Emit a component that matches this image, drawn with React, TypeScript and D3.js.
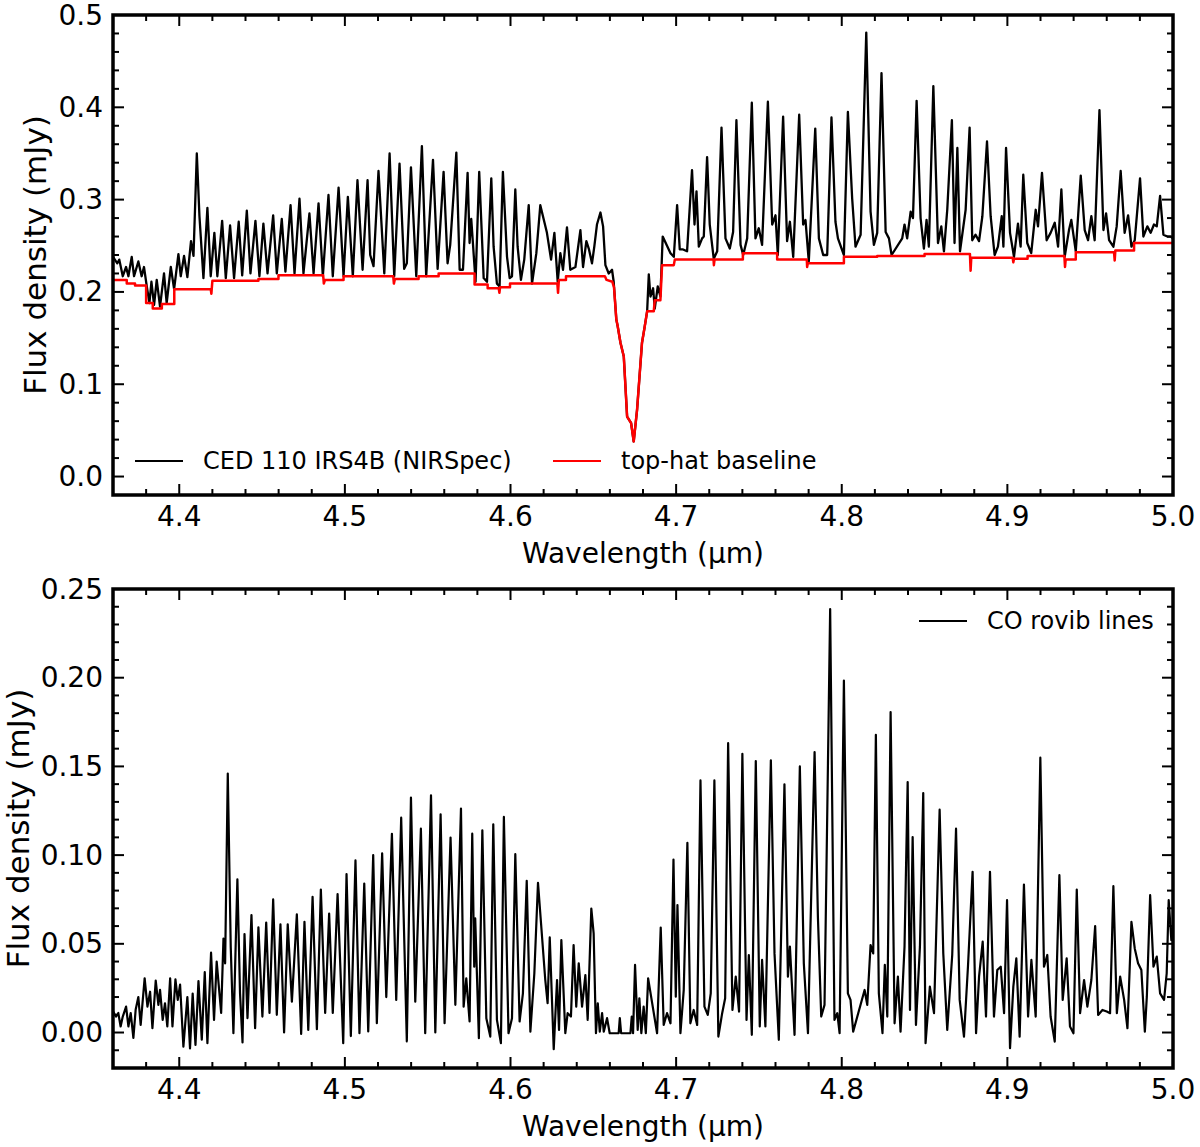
import React from 'react';
import * as d3 from 'd3';

// ---------------- data ----------------
const X_DOMAIN: [number, number] = [4.36, 5.0];
const TOP_Y_DOMAIN: [number, number] = [-0.02, 0.5];
const BOT_Y_DOMAIN: [number, number] = [-0.02, 0.25];

const xMajorTicks = [4.4, 4.5, 4.6, 4.7, 4.8, 4.9, 5.0];
const xTickLabels = ['4.4', '4.5', '4.6', '4.7', '4.8', '4.9', '5.0'];
const X_MINOR_STEP = 0.02;

const topYMajorTicks = [0, 0.1, 0.2, 0.3, 0.4, 0.5];
const topYTickLabels = ['0.0', '0.1', '0.2', '0.3', '0.4', '0.5'];
const TOP_Y_MINOR_STEP = 0.02;

const botYMajorTicks = [0, 0.05, 0.1, 0.15, 0.2, 0.25];
const botYTickLabels = ['0.00', '0.05', '0.10', '0.15', '0.20', '0.25'];
const BOT_Y_MINOR_STEP = 0.01;

const X_LABEL = 'Wavelength (µm)';
const Y_LABEL = 'Flux density (mJy)';
const TOP_LEGEND = ['CED 110 IRS4B (NIRSpec)', 'top-hat baseline'];
const BOT_LEGEND = ['CO rovib lines'];

// observed spectrum, [wavelength µm, flux mJy]
const topSpectrum: [number, number][] = [
  [4.3600,0.238],[4.3626,0.231],[4.3638,0.235],[4.3659,0.217],[4.3679,0.227],[4.3693,0.217],[4.3713,0.238],
  [4.3727,0.217],[4.3753,0.233],[4.3773,0.217],[4.3787,0.227],[4.3804,0.206],[4.3820,0.188],[4.3832,0.211],
  [4.3848,0.186],[4.3864,0.213],[4.3884,0.184],[4.3908,0.220],[4.3924,0.188],[4.3949,0.227],[4.3969,0.203],
  [4.3995,0.241],[4.4009,0.217],[4.4029,0.239],[4.4049,0.216],[4.4071,0.255],[4.4086,0.239],[4.4106,0.350],
  [4.4122,0.282],[4.4146,0.215],[4.4170,0.291],[4.4190,0.217],[4.4212,0.264],[4.4230,0.217],[4.4259,0.277],
  [4.4281,0.215],[4.4307,0.272],[4.4331,0.215],[4.4359,0.276],[4.4380,0.218],[4.4408,0.288],[4.4430,0.220],
  [4.4460,0.277],[4.4484,0.217],[4.4508,0.274],[4.4533,0.220],[4.4567,0.283],[4.4589,0.220],[4.4619,0.279],
  [4.4641,0.222],[4.4672,0.294],[4.4696,0.220],[4.4726,0.301],[4.4750,0.220],[4.4786,0.285],[4.4811,0.220],
  [4.4841,0.296],[4.4867,0.217],[4.4901,0.305],[4.4927,0.217],[4.4962,0.313],[4.4992,0.217],[4.5018,0.303],
  [4.5048,0.217],[4.5076,0.321],[4.5107,0.224],[4.5137,0.321],[4.5153,0.240],[4.5173,0.228],[4.5203,0.331],
  [4.5238,0.220],[4.5270,0.350],[4.5298,0.217],[4.5330,0.339],[4.5358,0.225],[4.5374,0.231],[4.5399,0.335],
  [4.5431,0.217],[4.5465,0.358],[4.5491,0.217],[4.5532,0.343],[4.5560,0.225],[4.5596,0.330],[4.5620,0.231],
  [4.5636,0.251],[4.5673,0.351],[4.5693,0.224],[4.5713,0.224],[4.5741,0.329],[4.5753,0.253],[4.5763,0.279],
  [4.5773,0.253],[4.5789,0.211],[4.5811,0.330],[4.5838,0.215],[4.5858,0.211],[4.5884,0.323],[4.5898,0.249],
  [4.5918,0.209],[4.5934,0.206],[4.5954,0.330],[4.5979,0.238],[4.5995,0.215],[4.6009,0.217],[4.6029,0.311],
  [4.6043,0.249],[4.6063,0.213],[4.6083,0.235],[4.6110,0.294],[4.6130,0.209],[4.6156,0.242],[4.6180,0.294],
  [4.6220,0.264],[4.6245,0.235],[4.6265,0.264],[4.6285,0.211],[4.6301,0.242],[4.6317,0.224],[4.6341,0.270],
  [4.6361,0.224],[4.6392,0.227],[4.6422,0.267],[4.6438,0.227],[4.6458,0.255],[4.6474,0.246],[4.6492,0.231],
  [4.6506,0.249],[4.6522,0.273],[4.6543,0.286],[4.6559,0.271],[4.6573,0.229],[4.6593,0.220],[4.6613,0.224],
  [4.6623,0.211],[4.6639,0.170],[4.6647,0.163],[4.6664,0.145],[4.6684,0.130],[4.6704,0.065],[4.6728,0.058],
  [4.6744,0.038],[4.6764,0.072],[4.6794,0.145],[4.6809,0.161],[4.6825,0.179],[4.6835,0.219],[4.6845,0.195],
  [4.6861,0.204],[4.6871,0.182],[4.6889,0.206],[4.6905,0.195],[4.6919,0.260],[4.6966,0.242],[4.6986,0.238],
  [4.7006,0.294],[4.7022,0.246],[4.7042,0.246],[4.7066,0.244],[4.7096,0.332],[4.7111,0.273],[4.7123,0.309],
  [4.7137,0.249],[4.7157,0.258],[4.7167,0.260],[4.7187,0.346],[4.7203,0.273],[4.7227,0.236],[4.7248,0.244],
  [4.7274,0.378],[4.7298,0.258],[4.7324,0.247],[4.7344,0.265],[4.7364,0.386],[4.7389,0.251],[4.7405,0.240],
  [4.7429,0.258],[4.7457,0.405],[4.7479,0.258],[4.7499,0.269],[4.7519,0.251],[4.7554,0.406],[4.7580,0.273],
  [4.7600,0.283],[4.7614,0.240],[4.7646,0.390],[4.7670,0.255],[4.7687,0.276],[4.7707,0.238],[4.7743,0.392],
  [4.7767,0.273],[4.7781,0.278],[4.7801,0.233],[4.7840,0.377],[4.7862,0.258],[4.7888,0.240],[4.7912,0.240],
  [4.7938,0.389],[4.7962,0.276],[4.7977,0.258],[4.8013,0.240],[4.8037,0.395],[4.8063,0.301],[4.8083,0.249],
  [4.8114,0.262],[4.8148,0.481],[4.8174,0.287],[4.8194,0.251],[4.8214,0.264],[4.8240,0.437],[4.8265,0.265],
  [4.8285,0.258],[4.8301,0.240],[4.8365,0.258],[4.8379,0.273],[4.8395,0.258],[4.8416,0.287],[4.8430,0.280],
  [4.8452,0.407],[4.8476,0.280],[4.8496,0.247],[4.8512,0.278],[4.8526,0.249],[4.8553,0.423],[4.8581,0.253],
  [4.8601,0.271],[4.8617,0.244],[4.8637,0.289],[4.8665,0.386],[4.8681,0.253],[4.8698,0.356],[4.8714,0.244],
  [4.8748,0.289],[4.8772,0.378],[4.8788,0.256],[4.8808,0.262],[4.8829,0.255],[4.8849,0.282],[4.8877,0.363],
  [4.8899,0.282],[4.8923,0.240],[4.8943,0.249],[4.8966,0.282],[4.8976,0.249],[4.8992,0.356],[4.9016,0.264],
  [4.9040,0.238],[4.9064,0.274],[4.9080,0.249],[4.9096,0.327],[4.9120,0.253],[4.9144,0.242],[4.9171,0.289],
  [4.9185,0.271],[4.9209,0.329],[4.9237,0.256],[4.9261,0.264],[4.9286,0.275],[4.9306,0.249],[4.9326,0.311],
  [4.9346,0.238],[4.9372,0.267],[4.9386,0.278],[4.9413,0.244],[4.9443,0.326],[4.9467,0.267],[4.9487,0.256],
  [4.9507,0.282],[4.9527,0.256],[4.9556,0.397],[4.9580,0.267],[4.9596,0.285],[4.9614,0.256],[4.9640,0.249],
  [4.9660,0.271],[4.9684,0.331],[4.9708,0.264],[4.9729,0.283],[4.9749,0.249],[4.9769,0.256],[4.9801,0.323],
  [4.9821,0.260],[4.9845,0.271],[4.9865,0.264],[4.9885,0.273],[4.9902,0.271],[4.9922,0.304],[4.9942,0.262],
  [4.9966,0.260],[4.9986,0.260],[5.0000,0.258],
];

// top-hat baseline (step function), [wavelength µm, flux mJy]
const topBaseline: [number, number][] = [
  [4.3600,0.213],[4.3683,0.213],[4.3683,0.209],[4.3733,0.209],[4.3733,0.207],[4.3800,0.207],[4.3800,0.188],
  [4.3840,0.188],[4.3840,0.182],[4.3895,0.182],[4.3895,0.187],[4.3970,0.187],[4.3970,0.203],[4.4190,0.203],
  [4.4194,0.198],[4.4200,0.212],[4.4478,0.212],[4.4478,0.214],[4.4599,0.214],[4.4599,0.218],[4.4869,0.218],
  [4.4873,0.209],[4.4880,0.213],[4.4992,0.213],[4.4992,0.217],[4.5292,0.217],[4.5296,0.209],[4.5302,0.214],
  [4.5445,0.214],[4.5445,0.217],[4.5566,0.217],[4.5566,0.220],[4.5783,0.220],[4.5783,0.208],[4.5862,0.208],
  [4.5862,0.204],[4.5929,0.204],[4.5933,0.199],[4.5937,0.205],[4.5997,0.205],[4.5997,0.209],[4.6283,0.209],
  [4.6287,0.199],[4.6292,0.213],[4.6335,0.213],[4.6335,0.217],[4.6570,0.217],[4.6580,0.213],[4.6615,0.211],
  [4.6625,0.205],[4.6639,0.170],[4.6647,0.163],[4.6664,0.145],[4.6684,0.130],[4.6704,0.065],[4.6728,0.058],
  [4.6744,0.038],[4.6764,0.072],[4.6794,0.145],[4.6809,0.161],[4.6825,0.179],[4.6865,0.179],[4.6871,0.191],
  [4.6905,0.191],[4.6915,0.229],[4.6986,0.229],[4.6992,0.235],[4.7226,0.235],[4.7228,0.229],[4.7232,0.235],
  [4.7403,0.235],[4.7403,0.242],[4.7610,0.242],[4.7610,0.235],[4.7789,0.235],[4.7791,0.227],[4.7795,0.231],
  [4.8013,0.231],[4.8013,0.238],[4.8214,0.238],[4.8214,0.239],[4.8500,0.239],[4.8500,0.241],[4.8774,0.241],
  [4.8778,0.223],[4.8782,0.237],[4.9032,0.237],[4.9036,0.232],[4.9040,0.236],[4.9122,0.236],[4.9122,0.239],
  [4.9344,0.239],[4.9348,0.227],[4.9352,0.235],[4.9413,0.235],[4.9413,0.243],[4.9644,0.243],[4.9648,0.234],
  [4.9652,0.245],[4.9765,0.245],[4.9765,0.253],[5.0000,0.253],
];

// continuum-subtracted CO ro-vibrational lines, [wavelength µm, flux mJy]
const coLines: [number, number][] = [
  [4.3600,0.012],[4.3618,0.009],[4.3632,0.011],[4.3646,0.0034],[4.3659,0.009],[4.3679,0.0146],[4.3693,0.0034],
  [4.3707,0.011],[4.3723,-0.003],[4.3737,0.013],[4.3753,0.020],[4.3767,0.0043],[4.3791,0.0306],[4.3808,0.0146],
  [4.3824,0.023],[4.3838,0.0024],[4.3858,0.0293],[4.3874,0.0156],[4.3884,0.024],[4.3900,0.0071],[4.3914,0.0165],
  [4.3928,0.0034],[4.3945,0.0306],[4.3959,0.0034],[4.3977,0.030],[4.3991,0.0184],[4.4005,0.027],[4.4025,-0.008],
  [4.4049,0.020],[4.4065,-0.009],[4.4081,0.022],[4.4098,-0.007],[4.4116,0.029],[4.4136,-0.004],[4.4154,0.034],
  [4.4170,-0.006],[4.4192,0.045],[4.4210,0.0071],[4.4226,0.040],[4.4253,0.011],[4.4267,0.053],[4.4277,0.039],
  [4.4293,0.146],[4.4311,0.048],[4.4327,-0.0004],[4.4351,0.0864],[4.4367,0.022],[4.4382,-0.0056],[4.4394,0.0555],
  [4.4412,0.0081],[4.4436,0.0662],[4.4458,0.0024],[4.4478,0.0593],[4.4502,0.009],[4.4525,0.062],[4.4545,0.011],
  [4.4567,0.075],[4.4589,0.010],[4.4611,0.061],[4.4633,0.0000],[4.4655,0.061],[4.4680,0.0174],[4.4710,0.0666],
  [4.4736,-0.0008],[4.4756,0.0624],[4.4779,0.0015],[4.4805,0.0765],[4.4831,0.0019],[4.4855,0.0806],[4.4881,0.011],
  [4.4905,0.067],[4.4927,0.011],[4.4956,0.078],[4.4990,-0.006],[4.5010,0.0893],[4.5036,-0.002],[4.5064,0.097],
  [4.5088,-0.0004],[4.5117,0.084],[4.5141,0.0006],[4.5171,0.100],[4.5193,0.0053],[4.5225,0.101],[4.5250,0.020],
  [4.5284,0.112],[4.5310,0.0184],[4.5340,0.1211],[4.5374,-0.005],[4.5399,0.1324],[4.5425,0.0174],[4.5459,0.1149],
  [4.5485,-0.0004],[4.5520,0.1337],[4.5546,0.0000],[4.5578,0.1230],[4.5602,0.0053],[4.5638,0.1099],[4.5667,0.0156],
  [4.5701,0.1262],[4.5717,0.0146],[4.5733,0.0305],[4.5753,0.0062],[4.5769,0.1121],[4.5781,0.0371],[4.5787,0.0643],
  [4.5809,-0.0032],[4.5830,0.1140],[4.5854,0.0081],[4.5878,-0.0023],[4.5896,0.1174],[4.5918,0.0071],[4.5942,-0.0060],
  [4.5960,0.1215],[4.5988,-0.0004],[4.6009,0.0081],[4.6029,0.1005],[4.6055,0.0062],[4.6075,0.0221],[4.6098,0.0855],
  [4.6120,0.0005],[4.6144,0.0334],[4.6166,0.0844],[4.6210,0.0296],[4.6224,0.0165],[4.6237,0.0536],[4.6261,-0.0094],
  [4.6281,0.0296],[4.6293,0.0015],[4.6307,0.0521],[4.6331,-0.0004],[4.6345,0.0109],[4.6365,0.0090],[4.6381,0.0493],
  [4.6397,0.0146],[4.6412,0.0390],[4.6432,0.0146],[4.6452,0.0324],[4.6466,0.0071],[4.6488,0.0699],[4.6502,0.0559],
  [4.6516,-0.0004],[4.6527,0.0165],[4.6539,0.0005],[4.6553,0.0109],[4.6563,0.0005],[4.6583,0.0081],[4.6599,-0.0004],
  [4.6653,-0.0004],[4.6660,0.0081],[4.6668,-0.0004],[4.6724,-0.0004],[4.6732,0.0090],[4.6740,-0.0004],[4.6752,0.0381],
  [4.6768,0.0015],[4.6778,0.0193],[4.6790,-0.0004],[4.6804,0.0146],[4.6817,-0.0004],[4.6831,0.0305],[4.6885,-0.0004],
  [4.6907,0.0592],[4.6925,0.0043],[4.6945,0.0109],[4.6966,0.0052],[4.6984,0.0975],[4.6998,0.0202],[4.7008,0.0718],
  [4.7026,-0.0004],[4.7046,0.0240],[4.7068,0.1069],[4.7086,0.0052],[4.7106,0.0127],[4.7127,0.0043],[4.7147,0.1421],
  [4.7171,0.0146],[4.7191,0.0099],[4.7209,0.0221],[4.7231,0.1421],[4.7255,-0.0023],[4.7278,0.0109],[4.7296,0.0193],
  [4.7314,0.1631],[4.7340,0.0127],[4.7360,0.0315],[4.7380,0.0118],[4.7400,0.1571],[4.7425,0.0071],[4.7439,0.0437],
  [4.7457,-0.0013],[4.7481,0.1530],[4.7505,0.0034],[4.7519,0.0409],[4.7539,0.0034],[4.7572,0.1534],[4.7594,0.0446],
  [4.7620,-0.0041],[4.7654,0.1399],[4.7675,0.0315],[4.7687,0.0484],[4.7715,-0.0013],[4.7747,0.1500],[4.7771,0.0390],
  [4.7796,-0.0004],[4.7836,0.1581],[4.7856,0.0652],[4.7876,0.0090],[4.7896,0.0156],[4.7930,0.2387],[4.7956,0.0071],
  [4.7973,0.0109],[4.7987,-0.0004],[4.8013,0.1984],[4.8037,0.0221],[4.8053,0.0184],[4.8069,0.0005],[4.8138,0.0240],
  [4.8154,0.0156],[4.8174,0.0493],[4.8190,0.0446],[4.8206,0.1678],[4.8224,0.0221],[4.8246,-0.0004],[4.8260,0.0381],
  [4.8275,0.0090],[4.8295,0.1806],[4.8319,0.0052],[4.8339,0.0315],[4.8355,0.0005],[4.8379,0.0484],[4.8398,0.1412],
  [4.8412,0.0127],[4.8428,0.1102],[4.8448,0.0043],[4.8472,0.0484],[4.8492,0.1350],[4.8506,-0.0060],[4.8532,0.0259],
  [4.8557,0.0109],[4.8591,0.1256],[4.8613,0.0446],[4.8637,0.0015],[4.8667,0.0437],[4.8690,0.1149],[4.8712,0.0184],
  [4.8738,-0.0023],[4.8762,0.0371],[4.8790,0.0906],[4.8811,-0.0004],[4.8829,0.0315],[4.8851,0.0512],[4.8871,0.0090],
  [4.8895,0.0906],[4.8919,0.0090],[4.8939,0.0352],[4.8960,0.0371],[4.8980,0.0109],[4.8998,0.0746],[4.9016,-0.0088],
  [4.9036,0.0259],[4.9054,0.0418],[4.9074,-0.0023],[4.9100,0.0834],[4.9125,0.0090],[4.9145,0.0409],[4.9171,0.0090],
  [4.9199,0.1549],[4.9221,0.0371],[4.9241,0.0437],[4.9261,0.0090],[4.9286,-0.0051],[4.9314,0.0887],[4.9334,0.0184],
  [4.9358,0.0418],[4.9378,0.0034],[4.9399,-0.0004],[4.9419,0.0806],[4.9439,0.0109],[4.9463,0.0296],[4.9483,0.0146],
  [4.9507,0.0296],[4.9530,0.0600],[4.9548,0.0099],[4.9574,0.0127],[4.9600,0.0118],[4.9620,0.0109],[4.9640,0.0825],
  [4.9661,0.0109],[4.9681,0.0315],[4.9705,0.0184],[4.9725,0.0024],[4.9749,0.0624],[4.9769,0.0474],[4.9789,0.0390],
  [4.9809,0.0352],[4.9830,0.0005],[4.9842,0.0202],[4.9862,0.0774],[4.9882,0.0371],[4.9902,0.0428],[4.9922,0.0221],
  [4.9946,0.0184],[4.9962,0.0334],[4.9974,0.0746],[4.9990,0.0521],[5.0000,0.0600],
];

// ---------------- layout ----------------
const W = 1200;
const H = 1147;
const LEFT = 113;
const RIGHT = 1173;
const FONT = "'DejaVu Sans', 'Liberation Sans', sans-serif";
const TICK_FS = 28;
const XLABEL_FS = 28;
const YLABEL_FS = 31;
const LEGEND_FS = 24;
const MAJOR_LEN = 11;
const MINOR_LEN = 6;

type Series = { data: [number, number][]; color: string; width: number };
type LegendItem = { label: string; color: string; x: number; y: number };

function minorValues(domain: [number, number], step: number, majors: number[]) {
  const start = Math.ceil(domain[0] / step - 1e-9);
  const end = Math.floor(domain[1] / step + 1e-9);
  return d3
    .range(start, end + 1)
    .map((i) => +(i * step).toFixed(5))
    .filter((v) => !majors.some((m) => Math.abs(m - v) < 1e-7));
}

function Panel(props: {
  id: string;
  top: number;
  bottom: number;
  yDomain: [number, number];
  yMajor: number[];
  yLabels: string[];
  yMinorStep: number;
  yLabelX: number;
  series: Series[];
  legend: LegendItem[];
}) {
  const { id, top, bottom, yDomain, yMajor, yLabels, yMinorStep, yLabelX, series, legend } = props;
  const x = d3.scaleLinear().domain(X_DOMAIN).range([LEFT, RIGHT]);
  const y = d3.scaleLinear().domain(yDomain).range([bottom, top]);
  const line = d3
    .line<[number, number]>()
    .x((d) => x(d[0]))
    .y((d) => y(d[1]));

  const xMinor = minorValues(X_DOMAIN, X_MINOR_STEP, xMajorTicks).filter(
    (v) => v > X_DOMAIN[0] + 1e-6 && v < X_DOMAIN[1] - 1e-6
  );
  const yMinor = minorValues(yDomain, yMinorStep, yMajor).filter(
    (v) => v > yDomain[0] + 1e-6 && v < yDomain[1] - 1e-6
  );

  const tickStyle = { stroke: '#000', strokeWidth: 2 };
  const midY = (top + bottom) / 2;

  return (
    <g>
      <defs>
        <clipPath id={`clip-${id}`}>
          <rect x={LEFT} y={top} width={RIGHT - LEFT} height={bottom - top} />
        </clipPath>
      </defs>
      <g clipPath={`url(#clip-${id})`}>
        {series.map((s, i) => (
          <path
            key={i}
            d={line(s.data) || ''}
            fill="none"
            stroke={s.color}
            strokeWidth={s.width}
            strokeLinejoin="round"
          />
        ))}
      </g>

      {/* x ticks (bottom and top, inward) */}
      {xMajorTicks.map((v, i) => (
        <g key={`xM${i}`}>
          <line x1={x(v)} x2={x(v)} y1={bottom} y2={bottom - MAJOR_LEN} {...tickStyle} />
          <line x1={x(v)} x2={x(v)} y1={top} y2={top + MAJOR_LEN} {...tickStyle} />
          <text
            x={x(v)}
            y={bottom + 31}
            textAnchor="middle"
            fontSize={TICK_FS}
            fontFamily={FONT}
            fill="#000"
          >
            {xTickLabels[i]}
          </text>
        </g>
      ))}
      {xMinor.map((v, i) => (
        <g key={`xm${i}`}>
          <line x1={x(v)} x2={x(v)} y1={bottom} y2={bottom - MINOR_LEN} {...tickStyle} />
          <line x1={x(v)} x2={x(v)} y1={top} y2={top + MINOR_LEN} {...tickStyle} />
        </g>
      ))}

      {/* y ticks (left and right, inward) */}
      {yMajor.map((v, i) => (
        <g key={`yM${i}`}>
          <line x1={LEFT} x2={LEFT + MAJOR_LEN} y1={y(v)} y2={y(v)} {...tickStyle} />
          <line x1={RIGHT} x2={RIGHT - MAJOR_LEN} y1={y(v)} y2={y(v)} {...tickStyle} />
          <text
            x={LEFT - 10}
            y={y(v)}
            textAnchor="end"
            dominantBaseline="central"
            fontSize={TICK_FS}
            fontFamily={FONT}
            fill="#000"
          >
            {yLabels[i]}
          </text>
        </g>
      ))}
      {yMinor.map((v, i) => (
        <g key={`ym${i}`}>
          <line x1={LEFT} x2={LEFT + MINOR_LEN} y1={y(v)} y2={y(v)} {...tickStyle} />
          <line x1={RIGHT} x2={RIGHT - MINOR_LEN} y1={y(v)} y2={y(v)} {...tickStyle} />
        </g>
      ))}

      {/* frame */}
      <rect
        x={LEFT}
        y={top}
        width={RIGHT - LEFT}
        height={bottom - top}
        fill="none"
        stroke="#000"
        strokeWidth={3.5}
      />

      {/* axis labels */}
      <text
        x={(LEFT + RIGHT) / 2}
        y={bottom + 68}
        textAnchor="middle"
        fontSize={XLABEL_FS}
        fontFamily={FONT}
        fill="#000"
      >
        {X_LABEL}
      </text>
      <text
        transform={`translate(${yLabelX},${midY}) rotate(-90)`}
        textAnchor="middle"
        fontSize={YLABEL_FS}
        fontFamily={FONT}
        fill="#000"
      >
        {Y_LABEL}
      </text>

      {/* legend */}
      {legend.map((l, i) => (
        <g key={`lg${i}`}>
          <line x1={l.x} x2={l.x + 48} y1={l.y} y2={l.y} stroke={l.color} strokeWidth={2.2} />
          <text
            x={l.x + 68}
            y={l.y}
            dominantBaseline="central"
            fontSize={LEGEND_FS}
            fontFamily={FONT}
            fill="#000"
          >
            {l.label}
          </text>
        </g>
      ))}
    </g>
  );
}

export default function App() {
  return (
    <svg
      width={W}
      height={H}
      viewBox={`0 0 ${W} ${H}`}
      style={{ position: 'absolute', left: 0, top: 0, background: '#fff', display: 'block' }}
    >
      <rect x={0} y={0} width={W} height={H} fill="#fff" />
      <Panel
        id="top"
        top={15}
        bottom={495}
        yDomain={TOP_Y_DOMAIN}
        yMajor={topYMajorTicks}
        yLabels={topYTickLabels}
        yMinorStep={TOP_Y_MINOR_STEP}
        yLabelX={46}
        series={[
          { data: topSpectrum, color: '#000', width: 2.3 },
          { data: topBaseline, color: '#ff0000', width: 2.5 },
        ]}
        legend={[
          { label: TOP_LEGEND[0], color: '#000', x: 135, y: 461 },
          { label: TOP_LEGEND[1], color: '#ff0000', x: 553, y: 461 },
        ]}
      />
      <Panel
        id="bot"
        top={589}
        bottom={1068}
        yDomain={BOT_Y_DOMAIN}
        yMajor={botYMajorTicks}
        yLabels={botYTickLabels}
        yMinorStep={BOT_Y_MINOR_STEP}
        yLabelX={29}
        series={[{ data: coLines, color: '#000', width: 2.2 }]}
        legend={[{ label: BOT_LEGEND[0], color: '#000', x: 919, y: 621 }]}
      />
    </svg>
  );
}
